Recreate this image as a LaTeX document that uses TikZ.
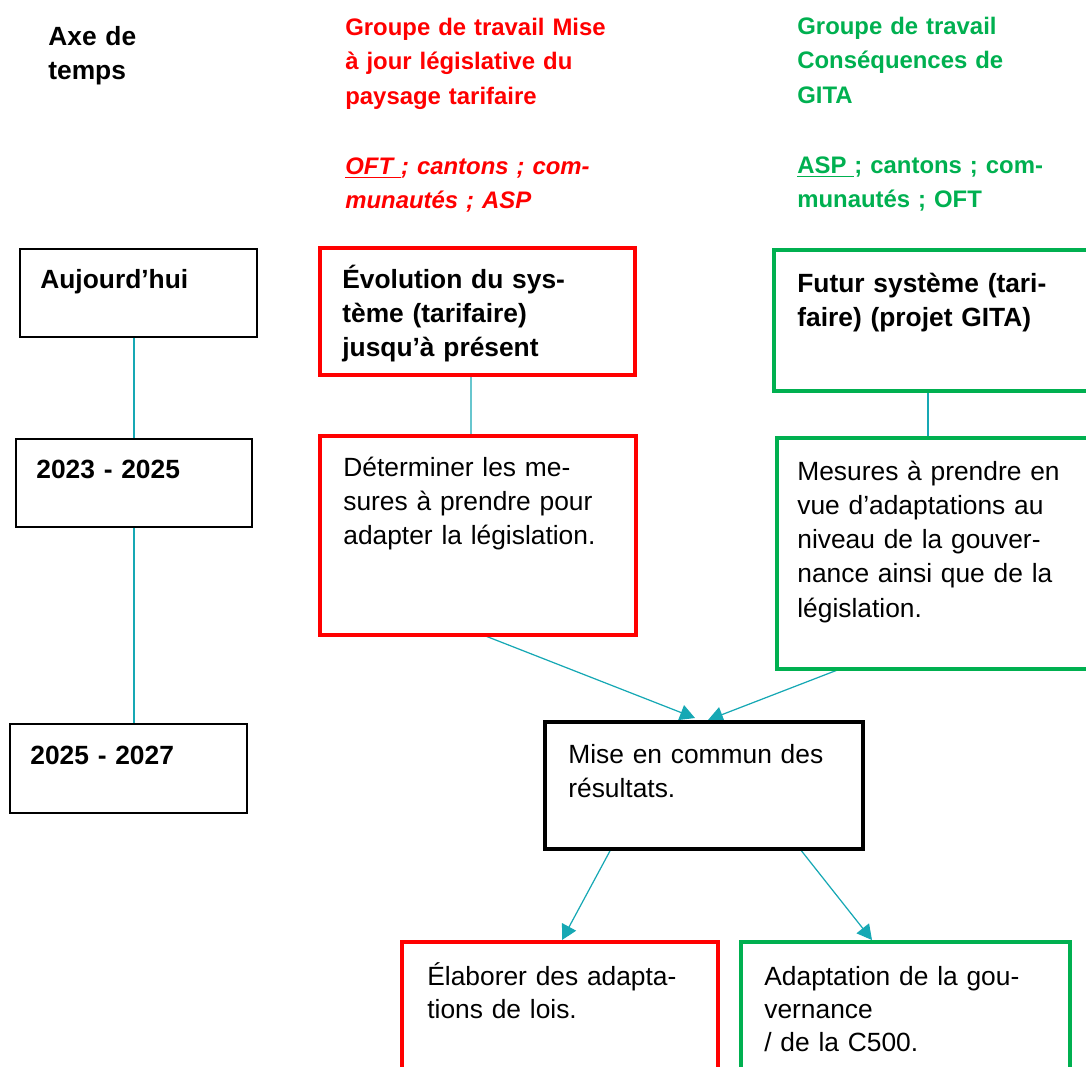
\documentclass[tikz,border=0pt]{standalone}
\usepackage{fontspec}
\setmainfont{Liberation Sans}
\usetikzlibrary{calc,arrows.meta}
\definecolor{gtred}{RGB}{255,0,0}
\definecolor{gtgreen}{RGB}{0,176,80}
\definecolor{axisteal}{RGB}{22,168,180}
\pgfdeclarelayer{edgelayer}
\pgfdeclarelayer{nodelayer}
\pgfsetlayers{edgelayer,nodelayer,main}
\tikzstyle{timebox}=[rectangle, draw=black, line width=1.1pt, inner sep=0pt, outer sep=0pt]
\tikzstyle{resultbox}=[rectangle, draw=black, line width=2pt, inner sep=0pt, outer sep=0pt]
\tikzstyle{redbox}=[rectangle, draw=gtred, line width=2pt, inner sep=0pt, outer sep=0pt]
\tikzstyle{greenbox}=[rectangle, draw=gtgreen, line width=2pt, inner sep=0pt, outer sep=0pt]
\tikzstyle{boxtext}=[anchor=base west, inner sep=0pt, text width=8cm, align=left, font=\fontsize{15}{19.5}\selectfont]
\tikzstyle{boxbold}=[style=boxtext, font=\fontsize{15}{19.6}\selectfont\bfseries]
\tikzstyle{headtext}=[anchor=base west, inner sep=0pt, text width=8cm, align=left, font=\fontsize{13.6}{19.8}\selectfont\bfseries]
\tikzstyle{axisedge}=[draw=axisteal, line width=0.7pt]
\tikzstyle{arrowedge}=[draw=axisteal, line width=0.7pt, -{Triangle[length=8.5pt,width=9pt]}]

\begin{document}
\begin{tikzpicture}
	\useasboundingbox (0,0) rectangle (21.72,-21.32);
	\begin{pgfonlayer}{nodelayer}
		\clip (0,0) rectangle (21.72,-21.32);
		% time axis
		\node [style=boxbold] (11) at (0.96, -0.90) {Axe de\\temps};
		\node [style=timebox, minimum width=4.74cm, minimum height=1.76cm] (1) at (2.77, -5.86) {};
		\node [style=timebox, minimum width=4.72cm, minimum height=1.76cm] (2) at (2.68, -9.66) {};
		\node [style=timebox, minimum width=4.74cm, minimum height=1.78cm] (3) at (2.57, -15.37) {};
		\node [style=boxbold] (12) at (0.80, -5.76) {Aujourd’hui};
		\node [style=boxbold] (13) at (0.72, -9.56) {2023 - 2025};
		\node [style=boxbold] (14) at (0.60, -15.28) {2025 - 2027};
		% red group
		\node [style=headtext, text=gtred] (15) at (6.90, -0.70) {Groupe de travail Mise\\à jour législative du\\paysage tarifaire\\[19.8pt]\textit{\underline{OFT\ }; cantons ; com-}\\\textit{munautés ; ASP}};
		\node [style=redbox, minimum width=6.30cm, minimum height=2.54cm] (4) at (9.55, -6.23) {};
		\node [style=redbox, minimum width=6.32cm, minimum height=3.98cm] (5) at (9.56, -10.71) {};
		\node [style=boxbold] (16) at (6.84, -5.76) {Évolution du sys-\\tème (tarifaire)\\jusqu’à présent};
		\node [style=boxtext] (17) at (6.86, -9.52) {Déterminer les me-\\sures à prendre pour\\adapter la législation.};
		% green group
		\node [style=headtext, text=gtgreen] (18) at (15.94, -0.68) {Groupe de travail\\Conséquences de\\GITA\\[19.8pt]\underline{ASP\ }; cantons ; com-\\munautés ; OFT};
		\node [style=greenbox, minimum width=6.52cm, minimum height=2.82cm] (6) at (18.74, -6.41) {};
		\node [style=greenbox, minimum width=6.46cm, minimum height=4.62cm] (7) at (18.77, -11.07) {};
		\node [style=boxbold] (19) at (15.94, -5.84) {Futur système (tari-\\faire) (projet GITA)};
		\node [style=boxtext] (20) at (15.94, -9.60) {Mesures à prendre en\\vue d’adaptations au\\niveau de la gouver-\\nance ainsi que de la\\législation.};
		% results
		\node [style=resultbox, minimum width=6.36cm, minimum height=2.54cm] (8) at (14.08, -15.71) {};
		\node [style=boxtext] (21) at (11.36, -15.26) {Mise en commun des\\résultats.};
		\node [style=redbox, minimum width=6.32cm, minimum height=3.16cm] (9) at (11.20, -20.42) {};
		\node [style=greenbox, minimum width=6.58cm, minimum height=3.16cm] (10) at (18.11, -20.42) {};
		\node [style=boxtext, font=\fontsize{15}{18.8}\selectfont] (22) at (8.54, -19.70) {Élaborer des adapta-\\tions de lois.};
		\node [style=boxtext, font=\fontsize{15}{18.8}\selectfont] (23) at (15.28, -19.70) {Adaptation de la gou-\\vernance\\/ de la C500.};
	\end{pgfonlayer}
	\begin{pgfonlayer}{edgelayer}
		\clip (0,0) rectangle (21.72,-21.32);
		\draw [style=axisedge] (1.south -| 2.north) to (2.north);
		\draw [style=axisedge] (2.south) to (2.south |- 3.north);
		\draw [style=axisedge] ($(4.south west)+(3.02,0)$) to ($(5.north west)+(3.02,0)$);
		\draw [style=axisedge] ($(6.south west)+(3.08,0)$) to ($(7.north west)+(3.02,0)$);
		\draw [style=arrowedge] ($(5.south west)+(3.26,0)$) to ($(8.north west)+(3.00,0.08)$);
		\draw [style=arrowedge] ($(7.south west)+(1.26,0)$) to ($(8.north west)+(3.26,0.04)$);
		\draw [style=arrowedge] ($(8.south west)+(1.32,0)$) to ($(9.north west)+(3.20,0.04)$);
		\draw [style=arrowedge] ($(8.south west)+(5.10,0)$) to ($(10.north west)+(2.62,0.04)$);
	\end{pgfonlayer}
\end{tikzpicture}
\end{document}
